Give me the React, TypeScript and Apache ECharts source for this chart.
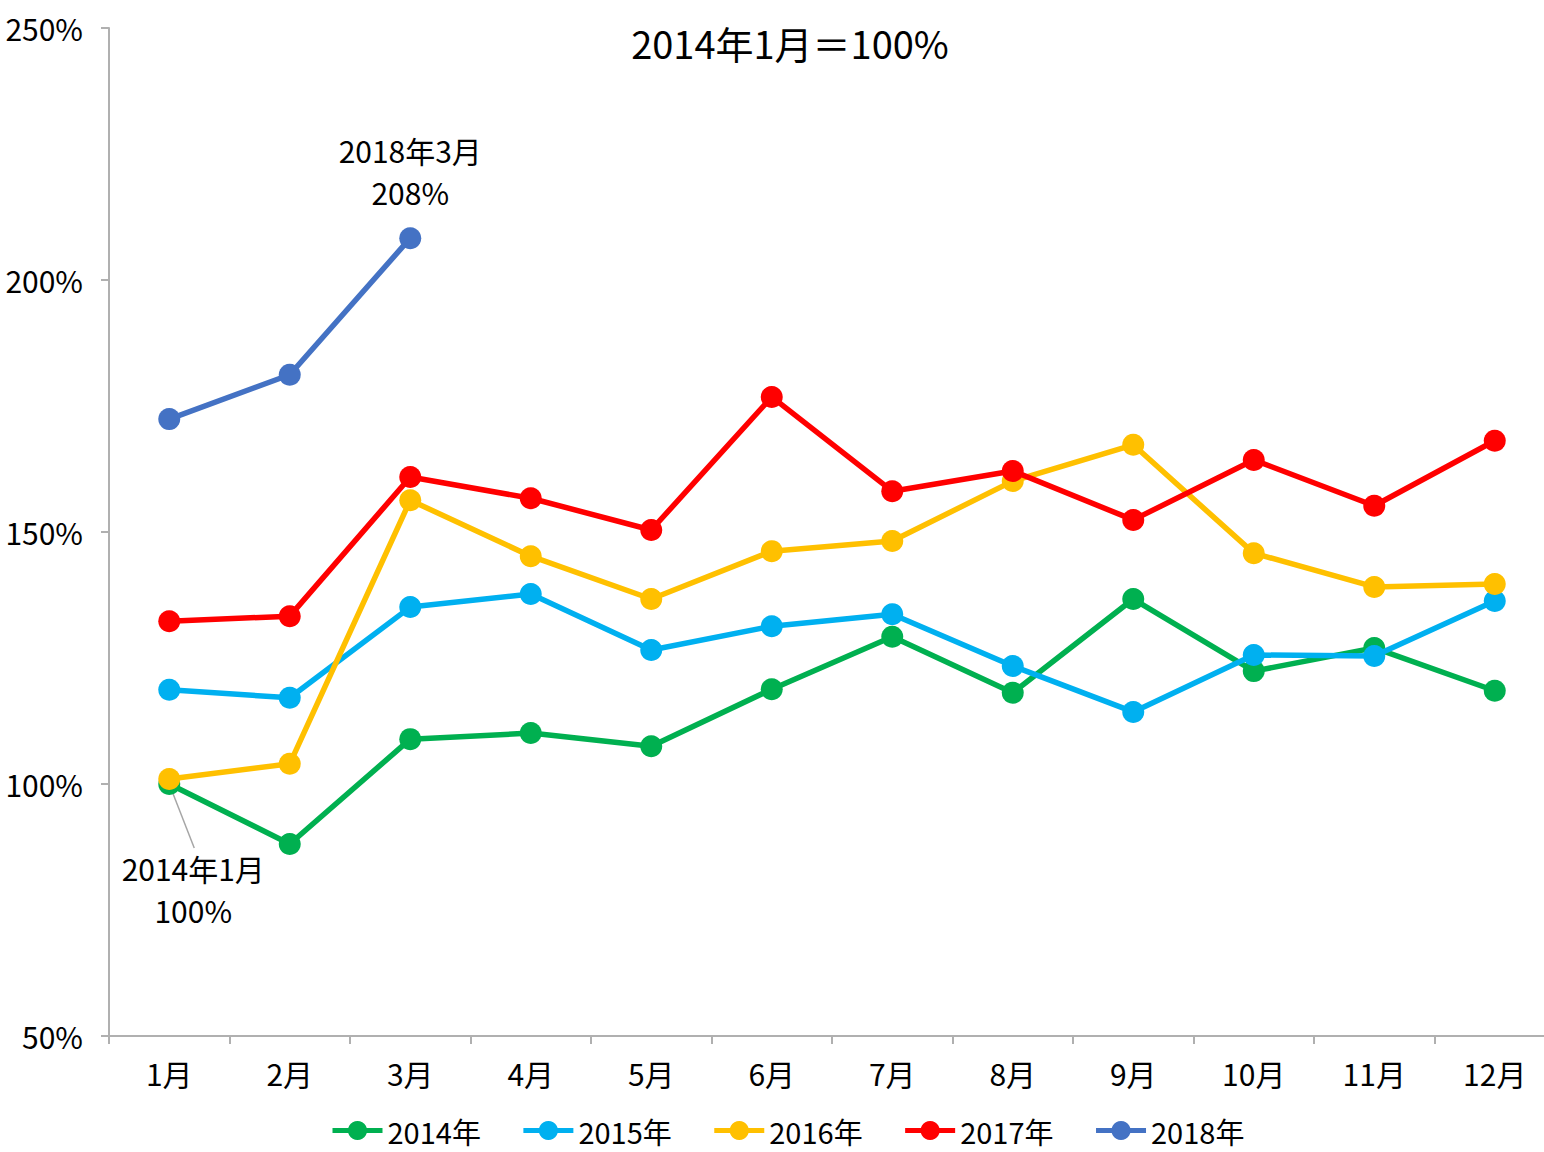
import React, { useEffect, useRef } from "react";
import * as echarts from "echarts";

const months = ["1月", "2月", "3月", "4月", "5月", "6月", "7月", "8月", "9月", "10月", "11月", "12月"];
const s2014 = [100, 88.1, 108.9, 110.1, 107.5, 118.8, 129.2, 118.1, 136.7, 122.4, 127.0, 118.5];
const s2015 = [118.7, 117.1, 135.1, 137.7, 126.6, 131.3, 133.7, 123.4, 114.3, 125.6, 125.4, 136.3];
const s2016 = [101.0, 104.0, 156.3, 145.2, 136.7, 146.2, 148.2, 160.1, 167.3, 145.8, 139.1, 139.7];
const s2017 = [132.3, 133.3, 160.9, 156.7, 150.4, 176.8, 158.1, 162.1, 152.4, 164.3, 155.2, 168.1];
const s2018 = [172.4, 181.2, 208.3];
const seriesNames = ["2014年", "2015年", "2016年", "2017年", "2018年"];
const colors = ["#00B050", "#00B0F0", "#FFC000", "#FF0000", "#4472C4"];
const titleText = "2014年1月＝100%";
const yTicks = { min: 50, max: 250, interval: 50 };

const FONT = "'Noto Sans CJK JP', 'Noto Sans', sans-serif";

export default function App() {
  const ref = useRef<HTMLDivElement>(null);
  useEffect(() => {
    if (!ref.current) return;
    const chart = echarts.init(ref.current, null, { renderer: "svg" });
    const allData = [s2014, s2015, s2016, s2017, s2018];
    const series = allData.map((d, i) => {
      const data: any[] = d.map((v) => v);
      if (i === 0) {
        data[0] = {
          value: d[0],
          label: {
            show: true,
            position: "bottom",
            offset: [24, 47],
            formatter: "2014年1月\n100%",
            fontSize: 30,
            lineHeight: 42,
            color: "#000",
            fontFamily: FONT,
          },
        };
      }
      if (i === 4) {
        data[2] = {
          value: d[2],
          label: {
            show: true,
            position: "top",
            distance: 14,
            formatter: "2018年3月\n208%",
            fontSize: 30,
            lineHeight: 42,
            color: "#000",
            fontFamily: FONT,
          },
        };
      }
      return {
        name: seriesNames[i],
        type: "line",
        data,
        symbol: "circle",
        symbolSize: 22,
        itemStyle: { color: colors[i] },
        lineStyle: { color: colors[i], width: 5.5 },
        z: 2 + i,
      };
    });
    chart.setOption({
      animation: false,
      textStyle: { fontFamily: FONT },
      title: {
        text: titleText,
        left: 785,
        top: 18,
        textAlign: "center",
        textStyle: { fontSize: 38, fontWeight: "normal", color: "#000", fontFamily: FONT },
      },
      legend: {
        left: 330,
        top: 1116,
        padding: 0,
        itemWidth: 50,
        itemHeight: 24,
        itemGap: 40,
        lineStyle: { width: 5 },
        textStyle: { fontSize: 29, lineHeight: 24, color: "#000", fontFamily: FONT },
        data: seriesNames,
      },
      grid: { left: 109, top: 28, width: 1446, height: 1008, containLabel: false, outerBoundsMode: "none" },
      xAxis: {
        type: "category",
        data: months,
        boundaryGap: true,
        axisLine: { lineStyle: { color: "#B0B0B0", width: 2 } },
        axisTick: { show: true, length: 8, lineStyle: { color: "#B0B0B0", width: 2 } },
        axisLabel: { fontSize: 30, color: "#000", margin: 22, fontFamily: FONT },
      },
      yAxis: {
        type: "value",
        min: yTicks.min,
        max: yTicks.max,
        interval: yTicks.interval,
        axisLine: { show: true, lineStyle: { color: "#B0B0B0", width: 2 } },
        axisTick: { show: true, length: 8, lineStyle: { color: "#B0B0B0", width: 2 } },
        splitLine: { show: false },
        axisLabel: { fontSize: 30, color: "#000", margin: 26, formatter: "{value}%", fontFamily: FONT },
      },
      series,
    });
    const p = chart.convertToPixel({ seriesIndex: 0 }, [0, s2014[0]]) as number[];
    if (p) {
      chart.setOption({
        graphic: [
          {
            type: "line",
            shape: { x1: p[0], y1: p[1], x2: p[0] + 25, y2: p[1] + 64 },
            style: { stroke: "#A6A6A6", lineWidth: 1.5 },
            z: 1,
          },
        ],
      });
    }
    return () => chart.dispose();
  }, []);
  return (
    <div
      ref={ref}
      style={{ position: "fixed", left: 0, top: 0, width: 1544, height: 1152, background: "#fff" }}
    />
  );
}
